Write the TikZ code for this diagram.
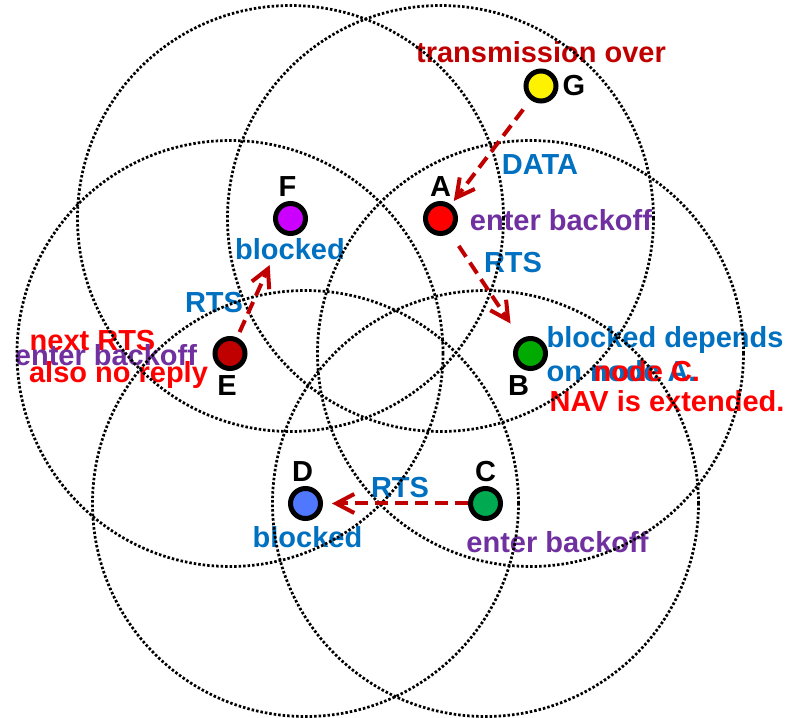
\documentclass[tikz,border=0pt]{standalone}
\usepackage{fontspec}
\setmainfont{Liberation Sans}
\usetikzlibrary{arrows.meta}
\definecolor{rtsred}{RGB}{192,0,0}
\definecolor{txtred}{RGB}{255,0,0}
\definecolor{txtblue}{RGB}{0,112,192}
\definecolor{txtpurple}{RGB}{112,48,160}
\definecolor{fillF}{RGB}{204,0,255}
\definecolor{fillB}{RGB}{0,170,0}
\definecolor{fillC}{RGB}{0,170,80}
\definecolor{fillD}{RGB}{80,120,255}

\begin{document}
\begin{tikzpicture}[
  font=\fontsize{16.5}{18.7}\selectfont\bfseries,
  stn/.style={circle,draw,line width=0.1cm,minimum size=0.6cm,inner sep=0pt},
  rng/.style={line width=0.055cm,dash pattern=on 0.05cm off 0.04cm},
  rts/.style={rtsred,line width=0.08cm,dash pattern=on 0.26cm off 0.14cm,
    -{Straight Barb[length=0.36cm,width=0.38cm]}},
  every label/.style={inner sep=1pt},
  label distance=0.04cm
]
\useasboundingbox[fill=white] (0,0) rectangle (15.88,-14.36);

% stations
\node[stn,fill=yellow,label={right:G}] (G) at (10.82,-1.72) {};
\node[stn,fill=red,label={above:A}] (A) at (8.81,-4.37) {};
\node[stn,fill=fillF,label={[xshift=-0.06cm]above:F}] (F) at (5.81,-4.37) {};
\node[stn,fill=rtsred,label={[xshift=-0.06cm]below:E}] (E) at (4.60,-7.07) {};
\node[stn,fill=fillB,label={[xshift=-0.24cm]below:B}] (B) at (10.61,-7.07) {};
\node[stn,fill=fillD,label={[xshift=-0.06cm]above:D}] (D) at (6.11,-10.07) {};
\node[stn,fill=fillC,label={above:C}] (C) at (9.71,-10.07) {};

% texts
\node[rtsred] (overG) at (10.82,-1.04) {transmission over};
\node[txtblue] (dataG) at (10.80,-3.30) {DATA};
\node[txtpurple] (backA) at (11.22,-4.40) {enter backoff};
\node[txtblue] (rtsA) at (10.26,-5.26) {RTS};
\node[txtblue] (blkF) at (5.80,-4.98) {blocked};
\node[txtblue] (rtsE) at (4.28,-6.06) {RTS};
\node[txtred] (nextE) at (1.85,-6.82) {next RTS};
\node[txtpurple] (backE) at (2.12,-7.10) {enter backoff};
\node[txtred] (noreE) at (2.37,-7.50) {also no reply};
\node[txtblue,anchor=base west] (blkB1) at (10.81,-6.96) {blocked depends};
\node[txtblue,anchor=base west] (blkB2) at (10.81,-7.64) {on node A.};
\node[txtred,anchor=base west] (navB1) at (11.75,-7.64) {node C.};
\node[txtred,anchor=base west] (navB2) at (10.87,-8.24) {NAV is extended.};
\node[txtblue] (rtsC) at (8.00,-9.76) {RTS};
\node[txtblue] (blkD) at (6.15,-10.75) {blocked};
\node[txtpurple] (backC) at (11.15,-10.84) {enter backoff};

% ranges
\foreach \s in {A,B,C,D,E,F}
  \draw[rng] (\s) circle (4.26);

% frames
\draw[rts,shorten <=0.24cm,shorten >=0.09cm] (G) -- (A);
\draw[rts,shorten <=0.31cm,shorten >=0.37cm] (A) -- (B);
\draw[rts,shorten <=0.12cm,shorten >=0.67cm] (E) -- (F);
\draw[rts,shorten >=0.18cm] (C) -- (D);
\end{tikzpicture}
\end{document}
